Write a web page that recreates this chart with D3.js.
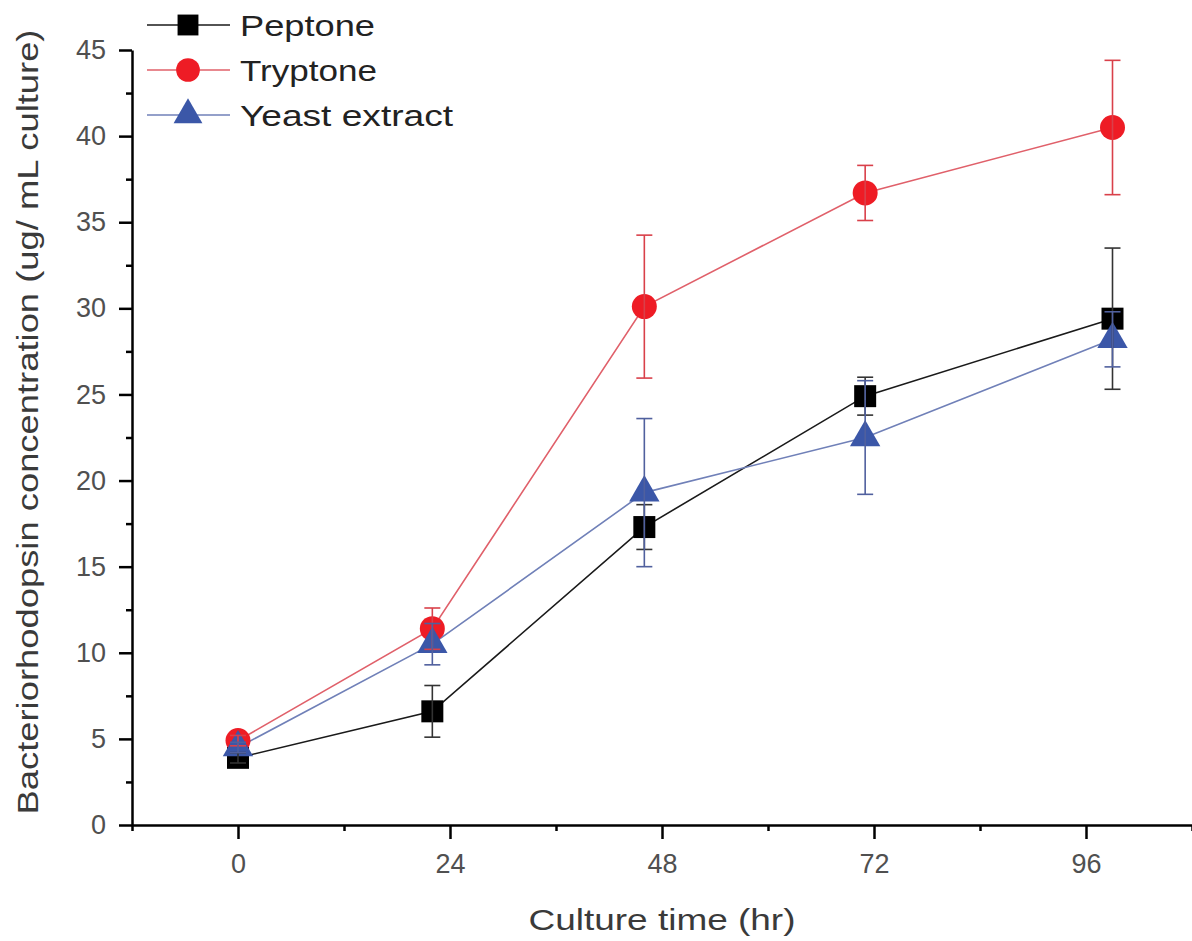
<!DOCTYPE html>
<html>
<head>
<meta charset="utf-8">
<script src="https://cdn.jsdelivr.net/npm/d3@7"></script>
<style>
  html, body { margin: 0; padding: 0; background: #fff; }
  svg { display: block; font-family: "Liberation Sans", Arial, sans-serif; }
</style>
</head>
<body>
<svg id="chart" width="1192" height="941"></svg>
<script>
// ---- data ----
const times = [0, 22, 46, 71, 99];
const peptone = [3.9, 6.6, 17.3, 24.9, 29.4];
const peptoneErr = [0.3, 1.5, 1.3, 1.1, 4.1];
const tryptone = [4.9, 11.4, 30.1, 36.7, 40.5];
const tryptoneErr = [0.3, 1.2, 4.15, 1.6, 3.9];
const yeast = [4.5, 10.5, 19.3, 22.5, 28.2];
const yeastErr = [0.3, 1.2, 4.3, 3.3, 1.6];
const xTicks = [0, 24, 48, 72, 96];
const xMinorTicks = [-12, 12, 36, 60, 84, 108];
const yTicks = [0, 5, 10, 15, 20, 25, 30, 35, 40, 45];
const yMinorTicks = [2.5, 7.5, 12.5, 17.5, 22.5, 27.5, 32.5, 37.5, 42.5];
const seriesNames = ["Peptone", "Tryptone", "Yeast extract"];

const series = [
  { name: seriesNames[0], values: peptone, err: peptoneErr, symbol: d3.symbolSquare, size: 484,
    marker: "#000000", line: "#1a1a1a", errColor: "#333333", textLen: 135 },
  { name: seriesNames[1], values: tryptone, err: tryptoneErr, symbol: d3.symbolCircle, size: 490,
    marker: "#ee1c25", line: "#e0606a", errColor: "#d9404a", textLen: 137 },
  { name: seriesNames[2], values: yeast, err: yeastErr, symbol: d3.symbolTriangle, size: 400,
    marker: "#3b57a8", line: "#7080b8", errColor: "#50609e", textLen: 213 }
];

const svg = d3.select("#chart");
const x = d3.scaleLinear().domain([-12, 108]).range([132, 1192]);
const y = d3.scaleLinear().domain([0, 45]).range([825, 50]);

// ---- axes ----
const gx = svg.append("g").attr("transform", `translate(0,${y(0)})`);
gx.call(d3.axisBottom(x).tickValues(xTicks).tickSize(14).tickSizeOuter(0).tickPadding(15));
const gxMinor = svg.append("g").attr("transform", `translate(0,${y(0)})`);
gxMinor.call(d3.axisBottom(x).tickValues(xMinorTicks).tickSize(6).tickFormat("").tickSizeOuter(0));
gxMinor.select(".domain").remove();

const gy = svg.append("g").attr("transform", `translate(${x(-12)},0)`);
gy.call(d3.axisLeft(y).tickValues(yTicks).tickSize(13).tickSizeOuter(0).tickPadding(13));
const gyMinor = svg.append("g").attr("transform", `translate(${x(-12)},0)`);
gyMinor.call(d3.axisLeft(y).tickValues(yMinorTicks).tickSize(6).tickFormat("").tickSizeOuter(0));
gyMinor.select(".domain").remove();

svg.selectAll(".domain").attr("stroke", "#000").attr("stroke-width", 2.5);
svg.selectAll(".tick line").attr("stroke", "#000").attr("stroke-width", 2.5);
svg.selectAll(".tick text").attr("font-size", 27).attr("fill", "#505050")
   .attr("font-family", "'Liberation Sans', Arial, sans-serif");

// ---- axis titles ----
svg.append("text")
  .attr("x", 662).attr("y", 930)
  .attr("text-anchor", "middle")
  .attr("font-size", 30).attr("fill", "#3a3a3a")
  .attr("textLength", 267).attr("lengthAdjust", "spacingAndGlyphs")
  .text("Culture time (hr)");

svg.append("text")
  .attr("transform", `translate(38,${422}) rotate(-90)`)
  .attr("text-anchor", "middle")
  .attr("font-size", 30).attr("fill", "#3a3a3a")
  .attr("textLength", 785).attr("lengthAdjust", "spacingAndGlyphs")
  .text("Bacteriorhodopsin concentration (ug/ mL culture)");

// ---- series lines ----
const lineGen = d3.line().x((d, i) => x(times[i])).y(d => y(d));
series.forEach(s => {
  svg.append("path")
    .datum(s.values)
    .attr("d", lineGen)
    .attr("fill", "none")
    .attr("stroke", s.line)
    .attr("stroke-width", 1.6);
});

// ---- markers ----
series.forEach(s => {
  svg.append("g").selectAll("path")
    .data(s.values)
    .join("path")
    .attr("transform", (d, i) => `translate(${x(times[i])},${y(d)})`)
    .attr("d", d3.symbol().type(s.symbol).size(s.size))
    .attr("fill", s.marker);
});

// ---- error bars ----
series.forEach(s => {
  const g = svg.append("g").attr("stroke", s.errColor).attr("stroke-width", 1.6).attr("fill", "none");
  s.values.forEach((v, i) => {
    const cx = x(times[i]);
    const top = y(v + s.err[i]);
    const bot = y(v - s.err[i]);
    g.append("line").attr("x1", cx).attr("x2", cx).attr("y1", top).attr("y2", bot);
    g.append("line").attr("x1", cx - 8).attr("x2", cx + 8).attr("y1", top).attr("y2", top);
    g.append("line").attr("x1", cx - 8).attr("x2", cx + 8).attr("y1", bot).attr("y2", bot);
  });
});

// ---- legend ----
const legendY = [25, 70, 115];
series.forEach((s, i) => {
  const g = svg.append("g").attr("transform", `translate(0,${legendY[i]})`);
  g.append("line").attr("x1", 147).attr("x2", 230).attr("y1", 0).attr("y2", 0)
    .attr("stroke", s.line).attr("stroke-width", 1.6);
  g.append("path").attr("transform", "translate(188,0)")
    .attr("d", d3.symbol().type(s.symbol).size(s.size * 0.9))
    .attr("fill", s.marker);
  g.append("text").attr("x", 240).attr("y", 0).attr("dy", "0.36em")
    .attr("font-size", 30).attr("fill", "#222")
    .attr("textLength", s.textLen).attr("lengthAdjust", "spacingAndGlyphs")
    .text(s.name);
});
</script>
</body>
</html>
